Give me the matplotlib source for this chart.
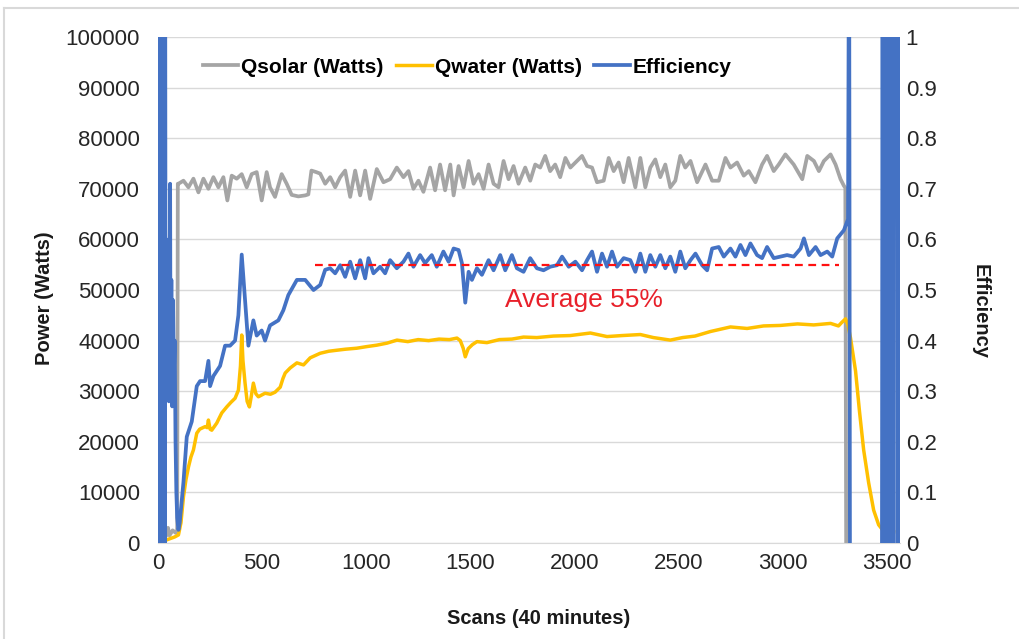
import numpy as np
import matplotlib
matplotlib.use("Agg")
import matplotlib.pyplot as plt
from matplotlib.lines import Line2D

plt.rcParams['font.family'] = ['Liberation Sans', 'DejaVu Sans']

# Qsolar (kW)
qsolar_scan = [0, 20, 40, 48, 55, 70, 85, 92, 95, 98, 122, 146, 170, 194, 218, 242, 266, 290, 314,
               333, 354, 378, 402, 426, 450, 474, 498, 522, 538, 562, 594, 618, 642, 674, 707, 722,
               737, 760, 779, 803, 827, 851, 875, 899, 923, 947, 971, 995, 1019, 1051, 1083,
               1115, 1147, 1179, 1203, 1227, 1251, 1275, 1307, 1331, 1355, 1379, 1404, 1420, 1444,
               1468, 1492, 1516, 1540, 1564, 1588, 1612, 1636, 1660, 1684, 1708, 1732, 1764, 1788,
               1812, 1836, 1860, 1884, 1908, 1932, 1957, 1981, 2013, 2037, 2061, 2085, 2109, 2141,
               2165, 2189, 2213, 2237, 2261, 2293, 2317, 2341, 2365, 2389, 2413, 2437, 2461, 2485,
               2509, 2533, 2558, 2590, 2630, 2662, 2694, 2726, 2750, 2782, 2814, 2838, 2870, 2902,
               2926, 2958, 2982, 3014, 3054, 3095, 3119, 3151, 3175, 3199, 3231, 3255, 3279, 3295,
               3302, 3306]
qsolar_kw = [0.5, 0.8, 1.5, 3.0, 1.5, 2.5, 2.0, 2.5, 71.0, 71.0, 71.6, 70.3, 72.0, 69.3, 72.0, 70.0,
             72.3, 70.3, 72.3, 67.7, 72.6, 72.0, 72.9, 70.3, 72.9, 73.3, 67.7, 73.3, 70.3, 68.4,
             72.9, 71.0, 68.8, 68.5, 68.7, 68.9, 73.6, 73.3, 73.0, 71.0, 72.3, 70.3, 72.3, 73.6,
             68.4, 73.6, 68.7, 73.6, 68.0, 73.9, 71.3,
             71.9, 74.2, 72.3, 73.5, 70.0, 71.6, 69.4, 74.2, 69.7, 74.8, 69.7, 74.8, 68.7, 74.5,
             70.3, 75.5, 71.0, 72.9, 70.0, 74.8, 71.0, 70.3, 75.5, 71.9, 74.5, 71.0, 74.2, 71.6,
             74.8, 74.2, 76.5, 73.5, 74.8, 72.3, 76.1, 74.2, 75.5, 76.5, 74.5, 74.2, 71.3, 71.6,
             76.1, 73.5, 75.2, 71.3, 76.1, 70.3, 76.1, 70.3, 74.2, 75.8, 72.3, 74.8, 70.3, 71.6,
             76.5, 74.2, 75.5, 71.3, 74.8, 71.6, 71.6, 76.1, 74.2, 75.2, 72.6, 73.5, 71.3, 74.8,
             76.5, 73.5, 74.8, 76.8, 74.8, 71.9, 76.5, 75.5, 73.5, 75.5, 76.8, 74.8, 71.9, 70.6,
             70.2, 0.0]

# Qwater (kW), yellow curve
qwater_scan = [0, 40, 80, 98, 110, 122, 134, 146, 158, 170, 186, 200, 226, 236, 242, 250, 258, 282,
               306, 330, 350, 370, 386, 396, 402, 408, 418, 428, 439, 448, 458, 470, 482, 514, 540,
               562, 587, 600, 611, 635, 667, 699, 731, 779, 820, 859, 900, 955, 1000, 1051, 1100,
               1148, 1200, 1250, 1300, 1350, 1400, 1436, 1452, 1466, 1476, 1490, 1510, 1532, 1580,
               1640, 1700, 1756, 1820, 1900, 1980, 2077, 2157, 2230, 2317, 2380, 2461, 2520, 2580,
               2654, 2750, 2830, 2909, 2990, 3072, 3150, 3231, 3269, 3285, 3303, 3315, 3327, 3351,
               3370, 3390, 3414, 3438, 3462, 3481, 3510, 3534]
qwater_kw = [0.5, 0.6, 1.2, 1.6, 4.0, 9.1, 12.5, 15.0, 17.0, 18.4, 21.7, 22.5, 23.0, 22.8, 24.3,
             22.5, 22.3, 23.7, 25.7, 26.9, 27.8, 28.6, 30.2, 35.0, 41.1, 36.0, 31.6, 28.0, 26.9,
             29.0, 31.6, 29.5, 28.9, 29.6, 29.4, 29.8, 30.8, 32.5, 33.6, 34.6, 35.6, 35.2, 36.6,
             37.5, 37.9, 38.1, 38.3, 38.5, 38.8, 39.1, 39.5, 40.1, 39.8, 40.2, 40.0, 40.3, 40.2,
             40.5, 40.0, 38.5, 36.8, 38.4, 39.2, 39.8, 39.6, 40.2, 40.3, 40.7, 40.6, 40.9, 41.0,
             41.5, 40.8, 41.0, 41.2, 40.6, 40.1, 40.6, 40.9, 41.8, 42.7, 42.4, 42.9, 43.0, 43.3,
             43.1, 43.4, 42.9, 43.6, 44.3, 43.0, 40.5, 34.0, 26.0, 18.4, 11.9, 6.5, 3.6, 2.6,
             2.3, 2.2]

# Efficiency (fraction), blue curve; gaps where the ratio was undefined
eff_scan = [0, 2, 4, 6, 8, 10, 12, 14, 16, 18, 20, 22, 24, 26, 28, 30, 32, 34, 36,
            40, 44, 48, 52, 56, 58, 60, 64, 68, 72, 76, 80, 84, 88, 92, 98, 104, 122, 138, 162,
            186, 202, 226, 242, 250, 266, 298, 322, 346, 370, 386, 402, 418, 434, 458, 474, 498,
            514, 538, 578, 602, 626, 667, 707, 747, 779, 803, 827, 851, 875, 899, 923, 947, 971,
            995, 1011, 1035, 1067, 1091, 1115, 1147, 1179, 1203, 1227, 1259, 1283, 1315, 1339,
            1371, 1396, 1420, 1444, 1460, 1476, 1492, 1508, 1532, 1556, 1588, 1612, 1644, 1668,
            1700, 1724, 1756, 1788, 1820, 1852, 1884, 1917, 1941, 1973, 2005, 2037, 2061, 2085,
            2109, 2133, 2157, 2181, 2205, 2237, 2269, 2293, 2317, 2341, 2365, 2389, 2413, 2437,
            2461, 2485, 2509, 2533, 2558, 2582, 2614, 2638, 2662, 2694, 2718, 2750, 2774, 2798,
            2822, 2846, 2878, 2902, 2926, 2958, 2990, 3022, 3054, 3087, 3103, 3127, 3159, 3183,
            3215, 3239, 3263, 3295, 3308, 3315, 3320, 3324, 3330,
            3478, 3481, 3484, 3487, 3490, 3493, 3496, 3499, 3502, 3505, 3508, 3511, 3514, 3517,
            3520, 3523, 3526, 3529, 3532, 3535, 3550, 3553, 3556, 3559, 3562]
eff = [0, 1.3, 0.05, 1.3, 0, 1.3, 0.1, 1.3, 0, 1.3, 0.3, 1.3, 0, 1.3, 0.2, 1.3, 0, 1.3, 0.4,
       0.60, 0.30, 0.58, 0.28, 0.55, 0.71, 0.32, 0.52, 0.27, 0.48, 0.33, 0.40, 0.20, 0.10, 0.05,
       0.026, 0.04, 0.12, 0.21, 0.24, 0.31, 0.32, 0.32, 0.36, 0.31, 0.33, 0.35, 0.39, 0.39, 0.40,
       0.45, 0.57, 0.48, 0.39, 0.44, 0.41, 0.42, 0.40, 0.43, 0.44, 0.46, 0.49, 0.52, 0.52, 0.50,
       0.51, 0.54, 0.543, 0.533, 0.549, 0.526, 0.556, 0.523, 0.559, 0.523, 0.563, 0.533, 0.546,
       0.533, 0.559, 0.543, 0.556, 0.572, 0.546, 0.569, 0.553, 0.569, 0.546, 0.576, 0.556, 0.582,
       0.579, 0.553, 0.475, 0.536, 0.520, 0.543, 0.530, 0.559, 0.539, 0.569, 0.539, 0.569, 0.543,
       0.536, 0.563, 0.543, 0.539, 0.546, 0.549, 0.566, 0.546, 0.556, 0.539, 0.559, 0.576, 0.536,
       0.572, 0.546, 0.576, 0.546, 0.563, 0.559, 0.536, 0.572, 0.536, 0.569, 0.546, 0.569, 0.543,
       0.566, 0.536, 0.576, 0.543, 0.559, 0.572, 0.549, 0.539, 0.582, 0.585, 0.566, 0.582, 0.566,
       0.589, 0.569, 0.592, 0.569, 0.563, 0.585, 0.563, 0.566, 0.569, 0.566, 0.582, 0.602, 0.569,
       0.585, 0.569, 0.576, 0.566, 0.602, 0.618, 0.632, 0.64, 1.3, 0.0, np.nan,
       0, 1.3, 0, 1.3, 0, 1.3, 0, 1.3, 0, 1.3, 0, 1.3, 0, 1.3, 0, 1.3, 0, 1.3, 0, 1.3,
       1.3, 0, 1.3, 0, 1.3]

# red dashed average line
avg_scan = [755, 3270]
avg_eff = [0.55, 0.55]

power_ticks = [0, 10000, 20000, 30000, 40000, 50000, 60000, 70000, 80000, 90000, 100000]
eff_ticks = [0, 0.1, 0.2, 0.3, 0.4, 0.5, 0.6, 0.7, 0.8, 0.9, 1]
eff_ticklabels = ['0', '0.1', '0.2', '0.3', '0.4', '0.5', '0.6', '0.7', '0.8', '0.9', '1']
scan_ticks = [0, 500, 1000, 1500, 2000, 2500, 3000, 3500]

fig = plt.figure(figsize=(10.19, 6.39), dpi=100)
ax = fig.add_axes([0.1551, 0.1502, 0.7282, 0.7919])
ax2 = ax.twinx()

l1, = ax.plot(qsolar_scan, np.array(qsolar_kw) * 1000, color='#A5A5A5', lw=2.7,
              label='Qsolar (Watts)')
l2, = ax.plot(qwater_scan, np.array(qwater_kw) * 1000, color='#FFC000', lw=2.5,
              label='Qwater (Watts)')
l3, = ax2.plot(eff_scan, eff, color='#4472C4', lw=2.7, label='Efficiency')
ax2.plot(avg_scan, avg_eff, color='#FF1010', lw=1.6, ls=(0, (3.5, 2.5)), zorder=5)
ax2.text(2048, 0.48, 'Average 55%', color='#E8202A', fontsize=19, ha='center', va='center')

ax.set_xlim(0, 3565)
ax.set_ylim(0, 100000)
ax2.set_ylim(0, 1)
ax.set_xticks(scan_ticks)
ax.set_yticks(power_ticks)
ax2.set_yticks(eff_ticks)
ax2.set_yticklabels(eff_ticklabels)

ax.grid(axis='y', color='#D9D9D9', lw=1)
ax.set_axisbelow(True)
for a in (ax, ax2):
    for s in a.spines.values():
        s.set_visible(False)
ax.spines['bottom'].set_visible(True)
ax.spines['bottom'].set_color('#D9D9D9')

ax.tick_params(axis='both', length=0, labelsize=16, labelcolor='#262626')
ax.tick_params(axis='y', pad=13)
ax.tick_params(axis='x', pad=7)
ax2.tick_params(axis='y', length=0, labelsize=16, labelcolor='#262626', pad=4)

ax2.legend(handles=[l1, l2, l3], loc='center', bbox_to_anchor=(0.4166, 0.9407), ncol=3,
           frameon=False, prop={'weight': 'bold', 'size': 15},
           handlelength=1.7, handletextpad=0.15, columnspacing=0.6)

fig.text(45 / 1019, 1 - 298 / 639, 'Power (Watts)', rotation=90, ha='center', va='center',
         fontsize=14.5, fontweight='bold', color='#1a1a1a')
fig.text(980 / 1019, 1 - 312 / 639, 'Efficiency', rotation=270, ha='center', va='center',
         fontsize=14.5, fontweight='bold', color='#1a1a1a')
fig.text(539 / 1019, 1 - 618 / 639, 'Scans (40 minutes)', ha='center', va='center',
         fontsize=14.5, fontweight='bold', color='#1a1a1a')

# light chart border
fig.add_artist(Line2D([3.5 / 1019, 3.5 / 1019], [0, 1 - 7.5 / 639], transform=fig.transFigure,
                      color='#D9D9D9', lw=1.5))
fig.add_artist(Line2D([3.5 / 1019, 1], [1 - 7.5 / 639, 1 - 7.5 / 639], transform=fig.transFigure,
                      color='#D9D9D9', lw=1.5))

fig.savefig('out.png', dpi=100)
